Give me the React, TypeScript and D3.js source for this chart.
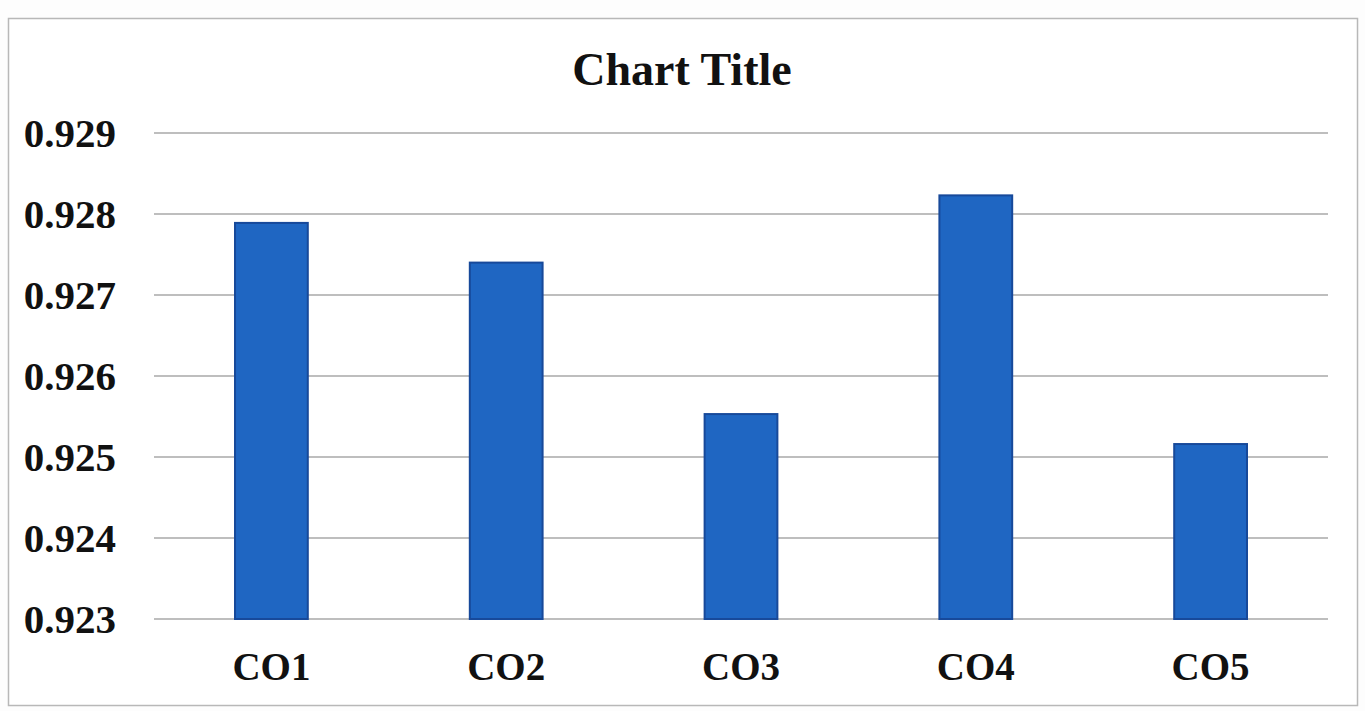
import React from "react";
import * as d3 from "d3";

const categories = ["CO1", "CO2", "CO3", "CO4", "CO5"];
const values = [0.92789, 0.9274, 0.92553, 0.92823, 0.92516];
const yTicks = [0.923, 0.924, 0.925, 0.926, 0.927, 0.928, 0.929];
const chartTitle = "Chart Title";

export default function App() {
  const W = 1365;
  const H = 711;
  const plot = { left: 154, right: 1328, top: 133, bottom: 619 };

  const x = d3
    .scaleBand<string>()
    .domain(categories)
    .range([plot.left, plot.right])
    .paddingInner(0.69)
    .paddingOuter(0.345);
  const y = d3.scaleLinear().domain([0.923, 0.929]).range([plot.bottom, plot.top]);

  const font = "'Liberation Serif', 'Times New Roman', serif";

  return (
    <svg
      width={W}
      height={H}
      style={{ position: "absolute", left: 0, top: 0, background: "#fff" }}
    >
      <rect x={0} y={0} width={W} height={H} fill="#fdfdfd" />
      <rect x={8.5} y={18.5} width={1349} height={687} fill="#fff" stroke="#b8b8b8" strokeWidth={1.5} />
      <text
        x={682}
        y={85}
        textAnchor="middle"
        fontFamily={font}
        fontWeight="bold"
        fontSize={46}
        fill="#111"
      >
        {chartTitle}
      </text>
      {yTicks.map((t) => (
        <g key={t}>
          <line
            x1={plot.left}
            x2={plot.right}
            y1={y(t)}
            y2={y(t)}
            stroke="#a8a8a8"
            strokeWidth={1.3}
          />
          <text
            x={116}
            y={y(t) + 14}
            textAnchor="end"
            fontFamily={font}
            fontWeight="bold"
            fontSize={41}
            fill="#111"
          >
            {d3.format(".3f")(t)}
          </text>
        </g>
      ))}
      {categories.map((c, i) => (
        <g key={c}>
          <rect
            x={x(c)}
            y={y(values[i])}
            width={x.bandwidth()}
            height={y(0.923) - y(values[i])}
            fill="#1f66c2"
            stroke="#17499a"
            strokeWidth={2}
          />
          <text
            x={(x(c) as number) + x.bandwidth() / 2}
            y={680}
            textAnchor="middle"
            fontFamily={font}
            fontWeight="bold"
            fontSize={39}
            fill="#111"
          >
            {c}
          </text>
        </g>
      ))}
    </svg>
  );
}
